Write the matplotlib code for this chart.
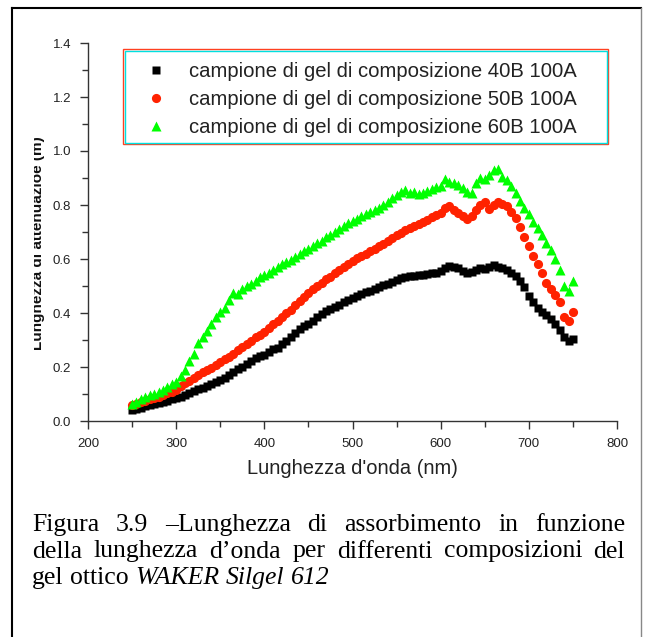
import matplotlib
matplotlib.use('Agg')
import matplotlib.pyplot as plt
from matplotlib.patches import Rectangle
from matplotlib.lines import Line2D
from matplotlib.ticker import MultipleLocator, FormatStrFormatter
from matplotlib.transforms import Bbox, TransformedBbox

# ---------------- data ----------------
wavelength = list(range(250, 755, 5))

black_40B = [
    0.040, 0.045, 0.050, 0.055, 0.058, 0.062, 0.065, 0.070, 0.075, 0.080,
    0.084, 0.090, 0.097, 0.104, 0.110, 0.117, 0.122, 0.128, 0.136, 0.145,
    0.152, 0.160, 0.170, 0.180, 0.193, 0.200, 0.210, 0.222, 0.232, 0.240,
    0.245, 0.255, 0.265, 0.272, 0.285, 0.298, 0.310, 0.325, 0.340, 0.352,
    0.360, 0.372, 0.385, 0.398, 0.408, 0.415, 0.422, 0.430, 0.440, 0.450,
    0.457, 0.462, 0.470, 0.478, 0.483, 0.490, 0.497, 0.503, 0.508, 0.515,
    0.522, 0.530, 0.535, 0.538, 0.537, 0.540, 0.542, 0.545, 0.548, 0.550,
    0.555, 0.568, 0.574, 0.570, 0.565, 0.555, 0.548, 0.552, 0.560, 0.566,
    0.562, 0.570, 0.578, 0.572, 0.565, 0.560, 0.550, 0.538, 0.520, 0.497,
    0.462, 0.440, 0.418, 0.402, 0.392, 0.378, 0.360, 0.338, 0.310, 0.295,
    0.302]

red_50B = [
    0.058, 0.063, 0.070, 0.075, 0.080, 0.085, 0.090, 0.096, 0.102, 0.108,
    0.115, 0.128, 0.140, 0.150, 0.160, 0.172, 0.182, 0.190, 0.197, 0.207,
    0.218, 0.228, 0.238, 0.250, 0.262, 0.273, 0.285, 0.298, 0.310, 0.318,
    0.330, 0.345, 0.360, 0.370, 0.385, 0.400, 0.412, 0.428, 0.445, 0.460,
    0.475, 0.488, 0.500, 0.512, 0.525, 0.535, 0.548, 0.560, 0.572, 0.583,
    0.594, 0.603, 0.612, 0.620, 0.628, 0.637, 0.647, 0.657, 0.667, 0.677,
    0.688, 0.698, 0.706, 0.714, 0.722, 0.730, 0.738, 0.746, 0.755, 0.762,
    0.770, 0.790, 0.795, 0.782, 0.772, 0.758, 0.750, 0.760, 0.780, 0.800,
    0.812, 0.785, 0.800, 0.812, 0.805, 0.795, 0.775, 0.752, 0.718, 0.680,
    0.648, 0.612, 0.580, 0.548, 0.512, 0.488, 0.465, 0.440, 0.385, 0.370,
    0.405]

green_60B = [
    0.062, 0.072, 0.082, 0.090, 0.095, 0.100, 0.107, 0.115, 0.125, 0.136,
    0.146, 0.165, 0.190, 0.222, 0.250, 0.290, 0.310, 0.335, 0.360, 0.385,
    0.405, 0.420, 0.450, 0.475, 0.470, 0.490, 0.500, 0.508, 0.520, 0.532,
    0.540, 0.550, 0.560, 0.572, 0.582, 0.590, 0.598, 0.608, 0.618, 0.628,
    0.638, 0.648, 0.658, 0.668, 0.680, 0.690, 0.700, 0.712, 0.722, 0.732,
    0.740, 0.750, 0.758, 0.766, 0.775, 0.782, 0.790, 0.800, 0.812, 0.825,
    0.838, 0.848, 0.855, 0.845, 0.848, 0.842, 0.845, 0.852, 0.858, 0.865,
    0.870, 0.895, 0.885, 0.880, 0.875, 0.862, 0.850, 0.845, 0.880, 0.900,
    0.895, 0.910, 0.930, 0.935, 0.905, 0.893, 0.870, 0.845, 0.815, 0.790,
    0.765, 0.738, 0.714, 0.688, 0.660, 0.635, 0.600, 0.560, 0.500, 0.482,
    0.520]

series_labels = [
    "campione di gel di composizione 40B 100A",
    "campione di gel di composizione 50B 100A",
    "campione di gel di composizione 60B 100A",
]
x_label = "Lunghezza d'onda (nm)"
y_label = "Lunghezza di attenuazioe (m)"

caption_lines = [
    [("Figura", "normal"), ("3.9", "normal"), ("\u2013Lunghezza", "normal"),
     ("di", "normal"), ("assorbimento", "normal"), ("in", "normal"),
     ("funzione", "normal")],
    [("della", "normal"), ("lunghezza", "normal"), ("d\u2019onda", "normal"),
     ("per", "normal"), ("differenti", "normal"), ("composizioni", "normal"),
     ("del", "normal")],
    [("gel", "normal"), ("ottico", "normal"), ("WAKER", "italic"),
     ("Silgel", "italic"), ("612", "italic")],
]
caption_justify = [True, True, False]

# ---------------- figure ----------------
W, H = 645, 637
fig = plt.figure(figsize=(W / 100, H / 100), dpi=100)
fig.patch.set_facecolor('white')


def fx(px):
    return px / W


def fy(py):
    return 1 - py / H


sans = ['Liberation Sans', 'DejaVu Sans']
serif = ['Liberation Serif', 'DejaVu Serif']

ax = fig.add_axes([fx(88), fy(421), fx(617) - fx(88), fy(43) - fy(421)])
ax.set_xlim(200, 800)
ax.set_ylim(0, 1.4)

l1, = ax.plot(wavelength, black_40B, 's', color='black', ms=6.2, mec='none',
              label=series_labels[0])
l2, = ax.plot(wavelength, red_50B, 'o', color='#ff2200', ms=6.6, mec='none',
              label=series_labels[1])
l3, = ax.plot(wavelength, green_60B, '^', color='#00ff00', ms=7.6, mec='none',
              label=series_labels[2])

for s in ['top', 'right']:
    ax.spines[s].set_visible(False)
for s in ['left', 'bottom']:
    ax.spines[s].set_color('#333333')
    ax.spines[s].set_linewidth(1.0)

ax.xaxis.set_major_locator(MultipleLocator(100))
ax.xaxis.set_minor_locator(MultipleLocator(50))
ax.yaxis.set_major_locator(MultipleLocator(0.2))
ax.yaxis.set_minor_locator(MultipleLocator(0.1))
ax.yaxis.set_major_formatter(FormatStrFormatter('%.1f'))
ax.xaxis.set_major_formatter(FormatStrFormatter('%d'))
ax.tick_params(which='major', direction='out', length=6, width=1,
               color='#333333', labelsize=9.5, labelcolor='#222222', pad=6)
ax.tick_params(which='minor', direction='out', length=4, width=1,
               color='#333333')
for lab in ax.get_xticklabels() + ax.get_yticklabels():
    lab.set_family(sans)

ax.set_xlabel(x_label, fontsize=14.5, family=sans, color='#222222', labelpad=7)

# y label, clipped on its top side like the reference
yl = fig.text(fx(42), fy(243), y_label, rotation=90, rotation_mode='anchor',
              ha='center', va='baseline', fontsize=11, fontweight='bold',
              family=sans, color='#111111')
yl.set_clip_box(TransformedBbox(Bbox([[fx(34), 0], [1, 1]]), fig.transFigure))
yl.set_clip_on(True)

# legend
leg = ax.legend(handles=[l1, l2, l3], loc='upper left',
                bbox_to_anchor=(fx(148), fy(62)), bbox_transform=fig.transFigure,
                frameon=False, prop={'family': sans, 'size': 14.6},
                handlelength=0.8, handletextpad=1.2, labelspacing=0.45,
                borderpad=0, borderaxespad=0, markerscale=1.0)
for t in leg.get_texts():
    t.set_color('#222222')

# legend double frame (red outside, cyan inside)
LX0, LX1, LY0, LY1 = 123, 608, 49, 144
fig.add_artist(Rectangle((fx(LX0), fy(LY1)), fx(LX1) - fx(LX0), fy(LY0) - fy(LY1),
                         transform=fig.transFigure, fill=False,
                         ec='#ff4020', lw=1.0))
fig.add_artist(Rectangle((fx(LX0 + 1.5), fy(LY1 - 1.5)), fx(LX1 - 1.5) - fx(LX0 + 1.5),
                         fy(LY0 + 1.5) - fy(LY1 - 1.5),
                         transform=fig.transFigure, fill=False,
                         ec='#00e0e0', lw=1.0))

# outer page frame
fig.add_artist(Line2D([fx(11.5), fx(11.5)], [fy(637), fy(7.5)],
                      transform=fig.transFigure, color='black', lw=1.5))
fig.add_artist(Line2D([fx(11.5), fx(641)], [fy(7.5), fy(7.5)],
                      transform=fig.transFigure, color='black', lw=1.5))
fig.add_artist(Line2D([fx(641), fx(641)], [fy(7.5), fy(637)],
                      transform=fig.transFigure, color='#888888', lw=1.0))

# caption with full justification
cap_fs = 18.5
renderer = fig.canvas.get_renderer()


def text_w(s, style):
    t = fig.text(0, 0, s, fontsize=cap_fs, family=serif, style=style)
    w = t.get_window_extent(renderer).width
    t.remove()
    return w


space_w = text_w("x x", "normal") - text_w("xx", "normal")
x0, x1 = 32, 625
baselines = [531, 557.5, 584]
for words, just, base in zip(caption_lines, caption_justify, baselines):
    widths = [text_w(w, st) for w, st in words]
    if just and len(words) > 1:
        gap = (x1 - x0 - sum(widths)) / (len(words) - 1)
    else:
        gap = space_w
    x = x0
    for (w, st), wd in zip(words, widths):
        fig.text(fx(x), fy(base), w, fontsize=cap_fs, family=serif, style=st,
                 ha='left', va='baseline', color='black')
        x += wd + gap

fig.savefig('out.png', dpi=100, facecolor='white')
